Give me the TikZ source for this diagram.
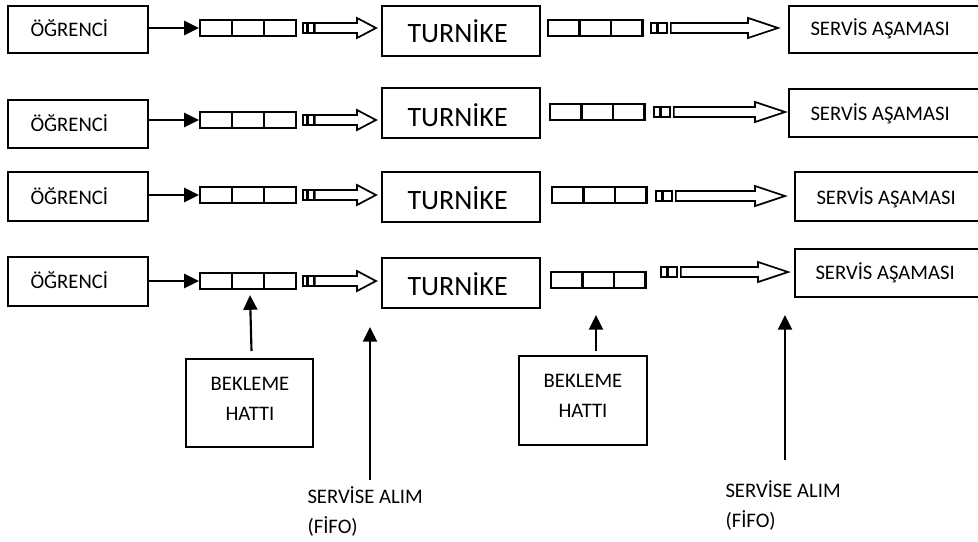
\documentclass[tikz,border=0pt]{standalone}
\usepackage{fontspec}
\setmainfont{Carlito}
\usetikzlibrary{fit,calc,arrows.meta}

\tikzset{every picture/.style={line width=0.75pt}}
\tikzset{
  kutu/.style={draw, line width=1.5pt, inner sep=0pt},
  hucre/.style={draw, line width=1.7pt, inner sep=0pt},
  nokta/.style={draw, line width=1.3pt, inner sep=0pt},
  yazi/.style={inner sep=0pt, anchor=base west, font=\fontsize{15.5}{18}\selectfont},
  buyuk/.style={yazi, font=\fontsize{21}{25}\selectfont},
  ok/.style={line width=1.6pt, -{Triangle[length=11pt,width=10.5pt]}},
  bos/.style={line width=1.3pt, fill=white, line join=miter},
}
% hollow arrow: start, tip, head length
\newcommand\bosok[3]{%
  \draw[bos] ($(#1)+(0,-5)$) -- ($(#2)+(-#3,-5)$) -- ($(#2)+(-#3,-10)$) -- (#2)
    -- ($(#2)+(-#3,10)$) -- ($(#2)+(-#3,5)$) -- ($(#1)+(0,5)$) -- cycle;}

\begin{document}
\begin{tikzpicture}[x=0.75pt,y=0.75pt,yscale=-1,xscale=1]
\useasboundingbox (0,0) rectangle (978,542);
\clip (0,0) rectangle (978,542);

% four rows: student -> queue -> turnstile -> queue -> service
\foreach \r/\sa/\sb/\sy/\qy/\ta/\tb/\ty/\qz/\qx/\dx/\hy/\tip/\va/\vb/\vx/\vtx/\vy in {
  1/6/53/37/20/6/56/43/20/548/651/28/778/6/53/789/810/36,
  2/100/148/132/112/88/138/127/104/550/654/112/785/89/137/789/810/121,
  3/172/221/204/187/172/222/209/187/552/656/196/785/172/221/795/816/204,
  4/257/306/288/273/258/308/295/272/551/661/272/788/249/297/795/815/279}{
  %Shape: student box
  \node[kutu, fit={(8,\sa) (148,\sb)}] (ogr\r) {};
  \node[yazi] (ogrY\r) at (30,\sy) {ÖĞRENCİ};
  %Shape: first queue
  \foreach \i in {0,1,2}
    \node[hucre, fit={({200+32*\i},\qy) ({232+32*\i},{\qy+16})}] (ka\r-\i) {};
  \node[nokta, fit={(303,{\qy+3}) (307,{\qy+13})}] (na\r-1) {};
  \node[nokta, fit={(308,{\qy+3}) (314,{\qy+13})}] (na\r-2) {};
  %Shape: turnstile
  \node[kutu, fit={(382,\ta) (540,\tb)}] (tur\r) {};
  \node[buyuk] (turY\r) at (407,\ty) {TURNİKE};
  %Shape: second queue
  \foreach \i in {0,1,2}
    \node[hucre, fit={({\qx+31.5*\i},\qz) ({\qx+31.5*(\i+1)},{\qz+16})}] (kb\r-\i) {};
  \node[nokta, fit={(\dx,{\hy-5}) ({\dx+6},{\hy+5})}] (nb\r-1) {};
  \node[nokta, fit={({\dx+7},{\hy-5}) ({\dx+16},{\hy+5})}] (nb\r-2) {};
  %Shape: service box
  \node[kutu, fit={(\vx,\va) (995,\vb)}] (srv\r) {};
  \node[yazi] (srvY\r) at (\vtx,\vy) {SERVİS AŞAMASI};
  %Arrows
  \draw[ok] (ogr\r.east |- ka\r-0.west) -- (ka\r-0.west);
  \coordinate (ua\r) at ($(na\r-2.east -| tur\r.west)+(-5,0)$);
  \bosok{na\r-2.east}{ua\r}{19}
  \coordinate (ba\r) at ($(nb\r-2.east)+(3,0)$);
  \coordinate (ub\r) at (\tip,\hy);
  \bosok{ba\r}{ub\r}{30}
}

%Shape: waiting line boxes
\node[kutu, fit={(186,359) (313,447)}] (bek1) {};
\node[yazi, anchor=base] at (250,390) {BEKLEME};
\node[yazi, anchor=base] at (250,420) {HATTI};
\node[kutu, fit={(519,356) (647,445)}] (bek2) {};
\node[yazi, anchor=base] at (583,387) {BEKLEME};
\node[yazi, anchor=base] at (583,417) {HATTI};

% Text Node
\node[yazi] (alim1) at (307,503) {SERVİSE ALIM};
\node[yazi] (fifo1) at (307,533) {(FİFO)};
\node[yazi] (alim2) at (725,497) {SERVİSE ALIM};
\node[yazi] (fifo2) at (725,527) {(FİFO)};

%Up arrows
\draw[ok] ($(bek1.north)+(2,-7)$) -- ($(ka4-1.south)+(2,5)$);
\coordinate (ucA) at (370,327);
\draw[ok] ($(alim1.north -| ucA)+(0,-6)$) -- (ucA);
\coordinate (ucB) at (596,315);
\draw[ok] ($(bek2.north -| ucB)+(0,-4)$) -- (ucB);
\coordinate (ucC) at (785,315);
\draw[ok] ($(alim2.north -| ucC)+(0,-20)$) -- (ucC);

\end{tikzpicture}
\end{document}
